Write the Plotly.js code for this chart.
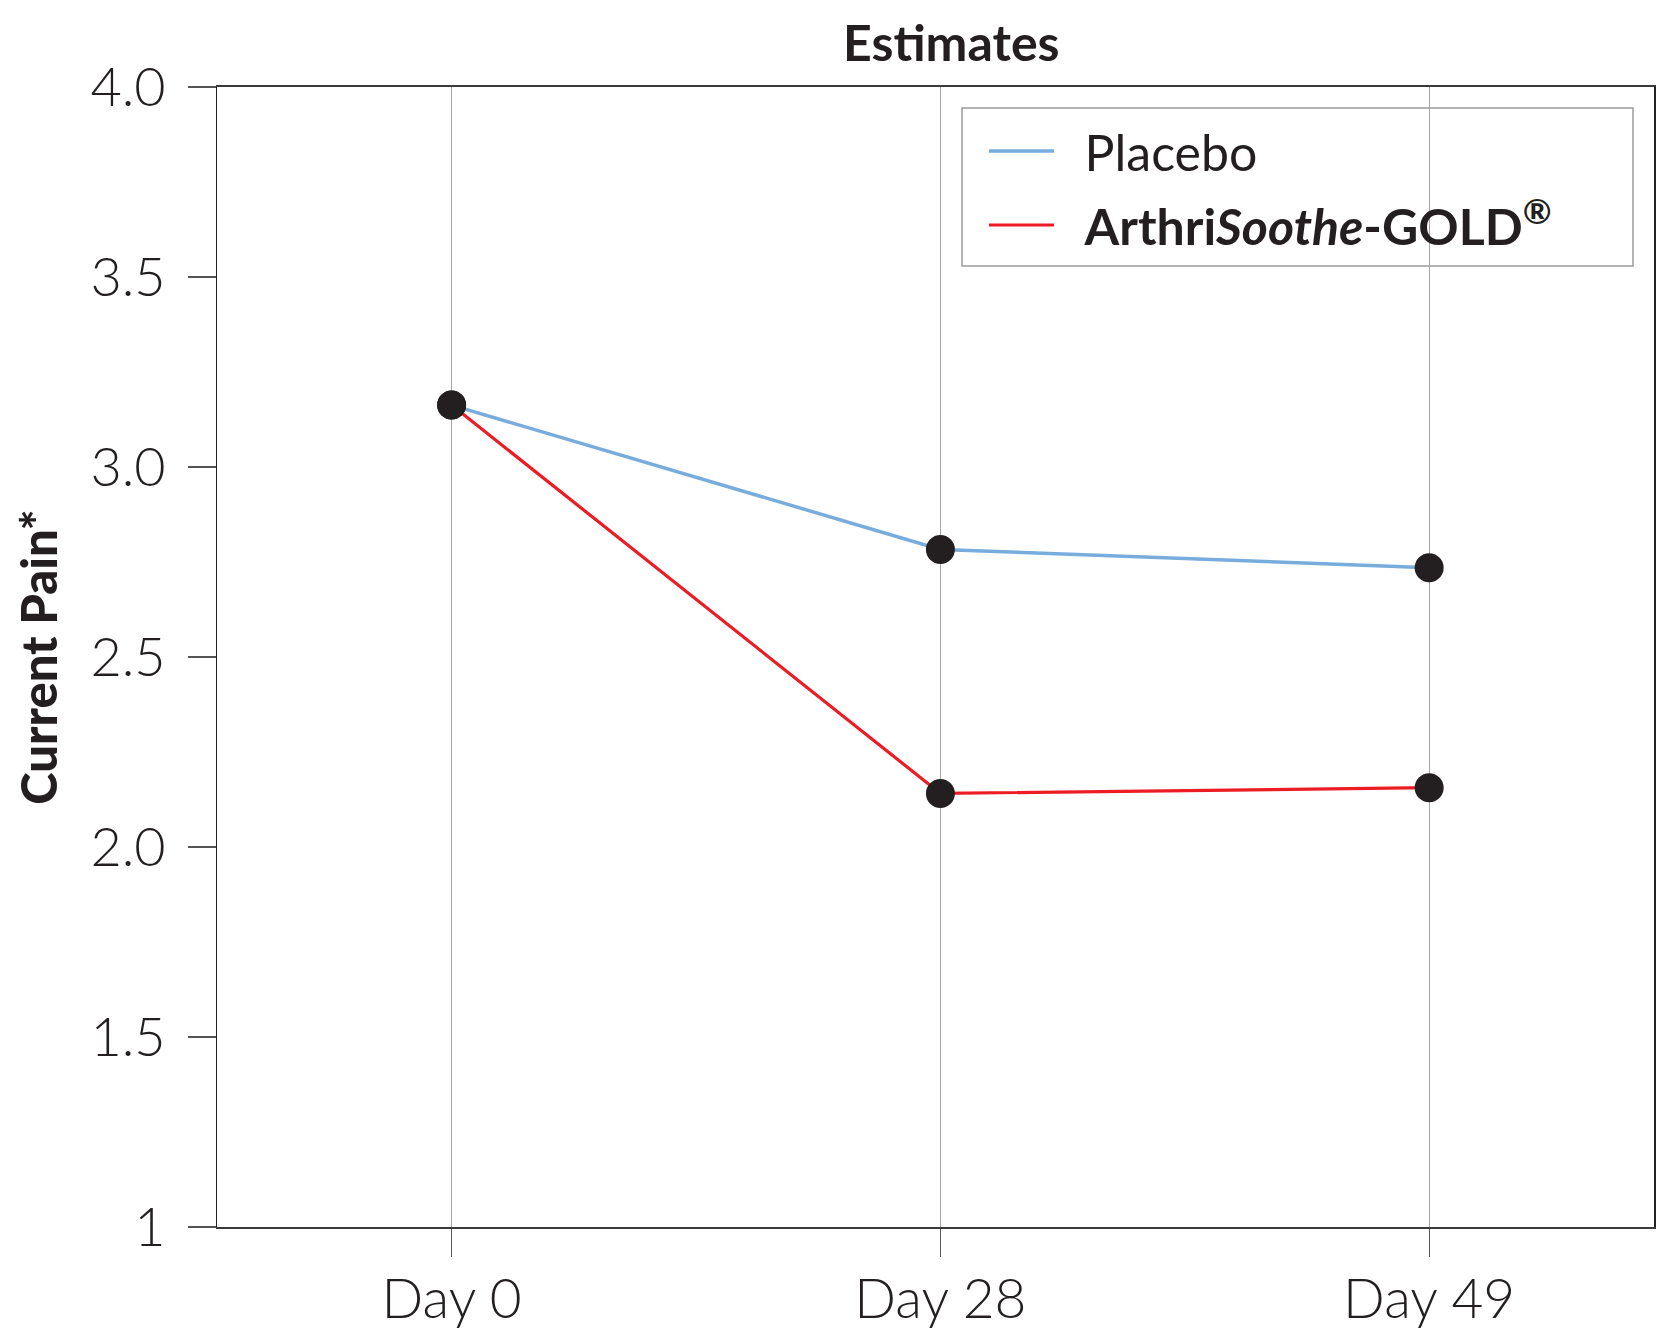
<!DOCTYPE html>
<html>
<head>
<meta charset="utf-8">
<script src="https://cdn.plot.ly/plotly-3.0.1.min.js"></script>
<style>
  html, body { margin: 0; padding: 0; background: #ffffff; }
  #chart { width: 1671px; height: 1333px; }
</style>
</head>
<body>
<div id="chart"></div>
<script>
// ---- data ----
const categories = ['Day 0', 'Day 28', 'Day 49'];
const placebo = [3.163, 2.783, 2.735];
const arthriSoothe = [3.163, 2.141, 2.156];
const seriesNames = ['Placebo', '<b>Arthri<i>Soothe</i>-GOLD<sup>®</sup></b>'];
const yTickVals = [1, 1.5, 2, 2.5, 3, 3.5, 4];
const yTickText = ['1', '1.5', '2.0', '2.5', '3.0', '3.5', '4.0'];

const FONT = 'Lato, "Open Sans", sans-serif';
const INK = '#231f20';
const GAP = '\u00a0\u00a0';

const traces = [
  {
    x: categories, y: placebo, name: GAP + seriesNames[0], type: 'scatter', mode: 'lines',
    line: { color: '#78acdd', width: 3.5 }, showlegend: true, legendgroup: 'p', hoverinfo: 'skip'
  },
  {
    x: categories, y: arthriSoothe, name: GAP + seriesNames[1], type: 'scatter', mode: 'lines',
    line: { color: '#ec1c24', width: 3.2 }, showlegend: true, legendgroup: 'a', hoverinfo: 'skip'
  },
  {
    x: categories, y: placebo, type: 'scatter', mode: 'markers', showlegend: false,
    marker: { color: INK, size: 29 }, hoverinfo: 'skip'
  },
  {
    x: categories, y: arthriSoothe, type: 'scatter', mode: 'markers', showlegend: false,
    marker: { color: INK, size: 29 }, hoverinfo: 'skip'
  }
];

// plot area in pixels: left 217, right 1654, top 87, bottom 1227
const px = v => (v - 217) / 1437;
const py = v => (1227 - v) / 1140;

const layout = {
  width: 1671,
  height: 1333,
  paper_bgcolor: '#ffffff',
  plot_bgcolor: '#ffffff',
  margin: { l: 217, r: 17, t: 87, b: 106, pad: 0 },
  font: { family: FONT, color: INK },
  title: {
    text: 'Estimates',
    font: { family: FONT, size: 50, weight: 'bold', color: INK },
    x: 0.511, xref: 'paper', xanchor: 'center',
    y: 1 - 43 / 1333, yref: 'container', yanchor: 'middle'
  },
  xaxis: {
    type: 'category',
    range: [-0.48, 2.46],
    showgrid: true, gridcolor: '#a6a6a6', gridwidth: 1,
    zeroline: false,
    showline: true, linecolor: '#3a3a3a', linewidth: 2, mirror: true,
    ticks: 'outside', ticklen: 28, tickwidth: 1, tickcolor: '#555555',
    tickfont: { family: FONT, size: 55, weight: 300, color: INK },
    ticklabelstandoff: -5,
    fixedrange: true
  },
  yaxis: {
    range: [1, 4],
    tickmode: 'array', tickvals: yTickVals, ticktext: yTickText,
    showgrid: false, zeroline: false,
    showline: true, linecolor: '#231f20', linewidth: 1.5, mirror: true,
    ticks: 'outside', ticklen: 28, tickwidth: 2, tickcolor: '#555555',
    tickfont: { family: FONT, size: 54, weight: 300, color: INK },
    ticklabelstandoff: 11,
    title: {
      text: 'Current Pain*',
      font: { family: FONT, size: 49, weight: 900, color: INK },
      standoff: 17
    },
    automargin: false,
    fixedrange: true
  },
  shapes: [
    {
      type: 'rect', xref: 'paper', yref: 'paper', layer: 'between',
      x0: px(962), x1: px(1633), y0: py(266), y1: py(108),
      line: { color: '#9a9a9a', width: 1.5 }, fillcolor: '#ffffff'
    }
  ],
  legend: {
    x: px(984), y: py(112),
    xanchor: 'left', yanchor: 'top',
    bgcolor: 'rgba(0,0,0,0)', borderwidth: 0,
    font: { family: FONT, size: 50, color: INK },
    itemwidth: 65,
    tracegroupgap: 6
  },
  showlegend: true
};

Plotly.newPlot('chart', traces, layout, { staticPlot: true, displayModeBar: false });
</script>
</body>
</html>
